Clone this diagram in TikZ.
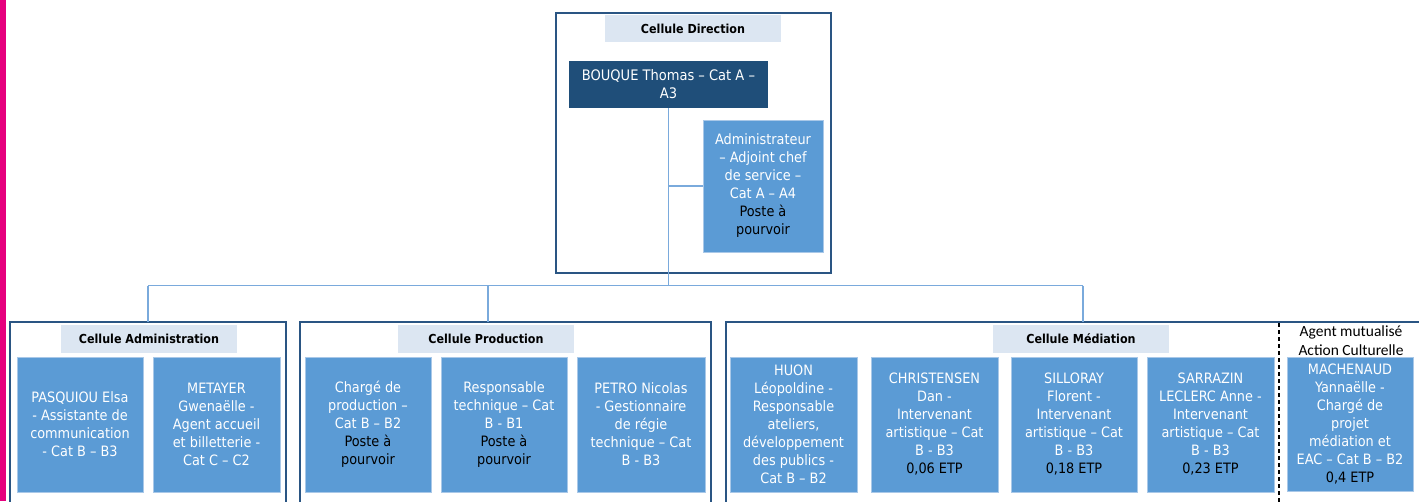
\documentclass[tikz,border=0pt]{standalone}
\usepackage{fontspec}
\setmainfont{DejaVu Sans Condensed}
\newfontfamily\calfont{Carlito}
\definecolor{navy}{HTML}{1F4E79}
\definecolor{frame}{HTML}{2A5583}
\definecolor{boxblue}{HTML}{5B9BD5}
\definecolor{boxedge}{HTML}{A9C8E8}
\definecolor{labelbg}{HTML}{DCE6F2}
\definecolor{link}{HTML}{7AAADC}
\definecolor{magenta}{HTML}{E6007E}
\tikzset{
  cell/.style={draw=frame, line width=2pt, fill=white, inner sep=0pt, outer sep=0pt},
  celllabel/.style={fill=labelbg, inner sep=0pt, outer sep=0pt, font=\bfseries\fontsize{12.4}{14}\selectfont, text=black},
  pbox/.style={draw=boxedge, line width=0.8pt, fill=boxblue, inner sep=0pt, outer sep=0pt, text=white, align=center, font=\fontsize{14.3}{18}\selectfont},
  headbox/.style={fill=navy, inner sep=0pt, outer sep=0pt, text=white, align=center, font=\fontsize{14.5}{18}\selectfont},
  conn/.style={draw=link, line width=1.3pt},
}
\newcommand{\blk}[1]{{\color{black}#1}}
\begin{document}
\begin{tikzpicture}[x=1pt,y=-1pt]
\useasboundingbox (0,0) rectangle (1419,501);
\clip (0,0) rectangle (1419,501);
\fill[magenta] (0,0) rectangle (6,501);

% Direction container
\node[cell, minimum width=275pt, minimum height=260pt] (cDir) at (693.5,143) {};
\node[celllabel, minimum width=176pt, minimum height=27pt] (lDir) at (693,28.5) {Cellule Direction};
\node[headbox, minimum width=199pt, minimum height=47pt] (bouque) at (668.5,84.5) {BOUQUE Thomas – Cat A –\\A3};
\node[pbox, minimum width=120pt, minimum height=132pt] (admin) at (763,186) {Administrateur\\– Adjoint chef\\de service –\\Cat A – A4\\\blk{Poste à}\\\blk{pourvoir}};

% lower containers
\node[cell, minimum width=276pt, minimum height=182pt] (cAdm) at (148,413) {};
\node[cell, minimum width=411pt, minimum height=182pt] (cProd) at (505.5,413) {};
\node[cell, minimum width=720pt, minimum height=182pt] (cMed) at (1086,413) {};
\draw[black, line width=1.3pt, dash pattern=on 4pt off 3pt] (1279,323) -- (1279,502);

\node[celllabel, minimum width=176pt, minimum height=28pt] (lAdm) at (149,339) {Cellule Administration};
\node[celllabel, minimum width=176pt, minimum height=28pt] (lProd) at (486,339) {Cellule Production};
\node[celllabel, minimum width=176pt, minimum height=28pt] (lMed) at (1081,339) {Cellule Médiation};
\node[font=\calfont\fontsize{15.5}{19}\selectfont, align=center, inner sep=0pt] (mutu) at (1351,341) {Agent mutualisé\\Action Culturelle};

% Administration
\node[pbox, minimum width=126pt, minimum height=135pt] (pasq) at (80,424.5) {PASQUIOU Elsa\\- Assistante de\\communication\\- Cat B – B3};
\node[pbox, minimum width=127pt, minimum height=135pt] (meta) at (216.5,424.5) {METAYER\\Gwenaëlle -\\Agent accueil\\et billetterie -\\Cat C – C2};
% Production
\node[pbox, minimum width=126pt, minimum height=135pt] (charge) at (368,424.5) {Chargé de\\production –\\Cat B – B2\\\blk{Poste à}\\\blk{pourvoir}};
\node[pbox, minimum width=126pt, minimum height=135pt] (resp) at (504,424.5) {Responsable\\technique – Cat\\B - B1\\\blk{Poste à}\\\blk{pourvoir}};
\node[pbox, minimum width=128pt, minimum height=135pt] (petro) at (641,424.5) {PETRO Nicolas\\- Gestionnaire\\de régie\\technique – Cat\\B - B3};
% Mediation
\node[pbox, minimum width=127pt, minimum height=135pt] (huon) at (793.5,424.5) {HUON\\Léopoldine -\\Responsable\\ateliers,\\développement\\des publics -\\Cat B – B2};
\node[pbox, minimum width=127pt, minimum height=135pt] (chris) at (934.5,424.5) {CHRISTENSEN\\Dan -\\Intervenant\\artistique – Cat\\B - B3\\\blk{0,06 ETP}};
\node[pbox, minimum width=126pt, minimum height=135pt] (sill) at (1074,424.5) {SILLORAY\\Florent -\\Intervenant\\artistique – Cat\\B - B3\\\blk{0,18 ETP}};
\node[pbox, minimum width=127pt, minimum height=135pt] (sarr) at (1210.5,424.5) {SARRAZIN\\LECLERC Anne -\\Intervenant\\artistique – Cat\\B - B3\\\blk{0,23 ETP}};
\node[pbox, minimum width=126pt, minimum height=134pt] (mach) at (1350,424) {MACHENAUD\\Yannaëlle -\\Chargé de\\projet\\médiation et\\EAC – Cat B – B2\\\blk{0,4 ETP}};

% connectors
\coordinate (dA) at (148,285.5);
\coordinate (dP) at (488,285.5);
\coordinate (dM) at (1083,285.5);
\draw[conn] (bouque.south) -- (bouque.south |- dA);
\draw[conn] (bouque.south |- admin.west) -- (admin.west);
\draw[conn] (dA) -- (dM);
\draw[conn] (dA) -- (dA |- cAdm.north);
\draw[conn] (dP) -- (dP |- cProd.north);
\draw[conn] (dM) -- (dM |- cMed.north);
\end{tikzpicture}
\end{document}
